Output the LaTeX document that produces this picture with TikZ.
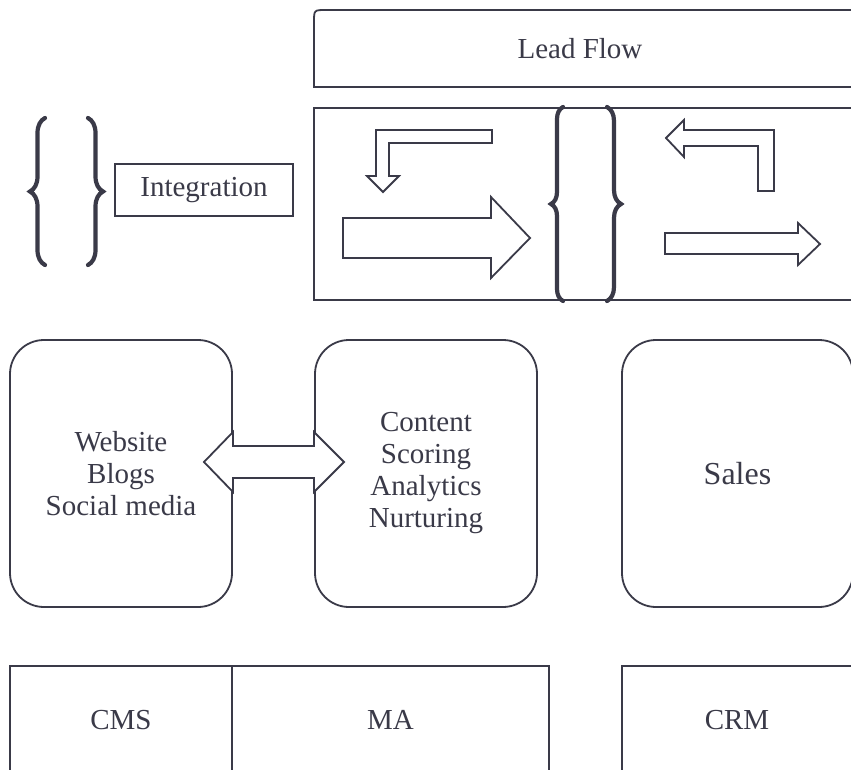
\documentclass[tikz,border=0pt]{standalone}
\usepackage{fontspec}
\setmainfont{Liberation Serif}
\usetikzlibrary{decorations.pathreplacing}
\definecolor{ink}{HTML}{3A3A48}
\tikzset{
  box/.style={draw=ink, line width=0.9pt, fill=white},
  txt/.style={text=ink, font=\fontsize{14.5}{16}\selectfont, align=center},
  roundbox/.style={box, txt, rounded corners=17pt, minimum width=111pt, minimum height=133.5pt},
  blockarrow/.style={draw=ink, line width=0.9pt, fill=white, line join=miter},
  bracket/.style={draw=ink, line width=2.1pt, line cap=round, decorate, decoration={brace, amplitude=#1}},
}
\begin{document}
\begin{tikzpicture}[x=0.5pt, y=-0.5pt]
  \path[use as bounding box, clip] (0,0) rectangle (851,770);

  % top: lead flow
  \draw[box] (870,87) -- (314,87) -- (314,22) .. controls (314,10) .. (326,10) -- (870,10);
  \node[txt] (leadflow) at (580,49) {Lead Flow};
  \draw[box] (314,108) rectangle (870,300);

  % integration
  \draw[bracket=7.5pt] (45,265) -- (45,118);
  \draw[bracket=7.5pt] (88,118) -- (88,265);
  \node[box, txt, minimum width=89pt, minimum height=26pt] (integ) at (204,190) {Integration};

  % flow arrows
  \draw[blockarrow] (492,130) -- (376,130) -- (376,176) -- (367,176) -- (383,192)
    -- (399,176) -- (389,176) -- (389,143) -- (492,143) -- cycle;
  \draw[blockarrow] (343,218) -- (491,218) -- (491,197) -- (530,238) -- (491,278)
    -- (491,258) -- (343,258) -- cycle;
  \draw[bracket=6pt] (563,301) -- (563,107);
  \draw[bracket=7pt] (607,107) -- (607,301);
  \draw[blockarrow] (666,138) -- (684,120) -- (684,130) -- (774,130) -- (774,191)
    -- (758,191) -- (758,146) -- (684,146) -- (684,157) -- cycle;
  \draw[blockarrow] (665,233) -- (798,233) -- (798,223) -- (820,244) -- (798,265)
    -- (798,254) -- (665,254) -- cycle;

  % channels, automation, sales
  \node[roundbox] (web) at (121,473.5) {Website\\Blogs\\Social media};
  \node[roundbox] (content) at (426,473.5) {Content\\Scoring\\Analytics\\Nurturing};
  \node[roundbox, minimum width=115.5pt, font=\fontsize{16}{18}\selectfont] (sales) at (737.5,473.5) {Sales};
  \draw[blockarrow] (204,462) -- (233,432) -- (233,446) -- (314,446) -- (314,432)
    -- (344,462) -- (314,492) -- (314,478) -- (233,478) -- (233,492) -- cycle;

  % systems
  \draw[box] (10,666) rectangle (232,800);
  \draw[box] (232,666) rectangle (549,800);
  \draw[box] (622,666) rectangle (870,800);
  \node[txt] (cms) at (121,720) {CMS};
  \node[txt] (ma) at (390.5,720) {MA};
  \node[txt] (crm) at (737,720) {CRM};
\end{tikzpicture}
\end{document}
